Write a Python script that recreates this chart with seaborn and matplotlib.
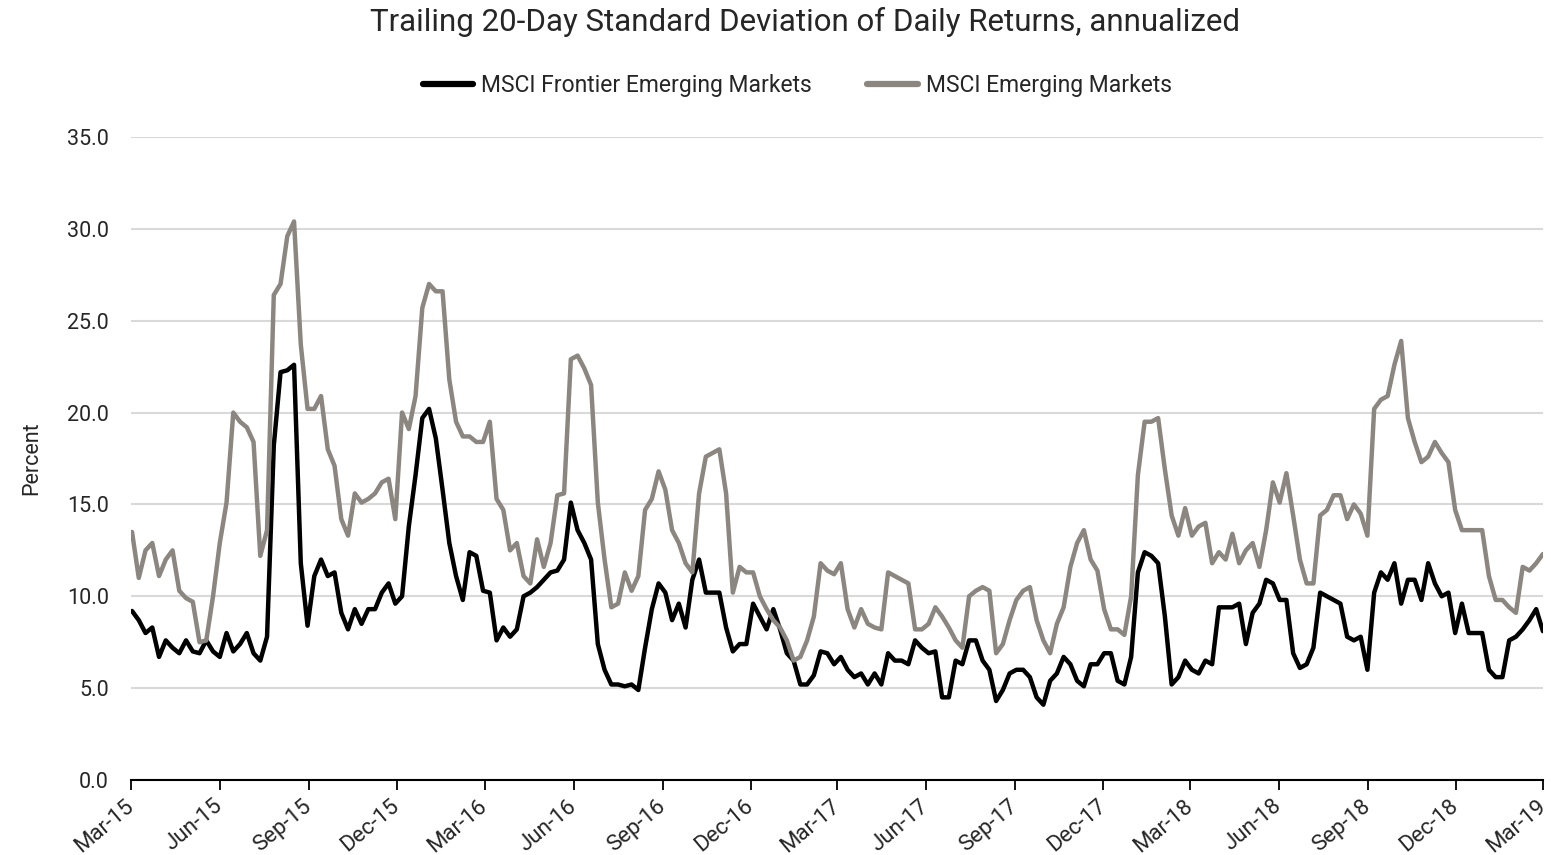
import numpy as np
import pandas as pd
import matplotlib
matplotlib.use("Agg")
import matplotlib.pyplot as plt
import matplotlib.dates as mdates
import matplotlib.ticker as mticker
from matplotlib.lines import Line2D
import seaborn as sns

# ---- data (weekly readings, Mar-2015 .. Mar-2019) ----
start_date = "2015-03-02"
end_date = "2019-03-01"

frontier = [
    9.2, 8.7, 8.0, 8.3, 6.7, 7.6, 7.2, 6.9, 7.6, 7.0,
    6.9, 7.6, 7.0, 6.7, 8.0, 7.0, 7.4, 8.0, 6.9, 6.5,
    7.8, 18.2, 22.2, 22.3, 22.6, 11.8, 8.4, 11.1, 12.0, 11.1,
    11.3, 9.1, 8.2, 9.3, 8.5, 9.3, 9.3, 10.2, 10.7, 9.6,
    10.0, 13.8, 16.6, 19.7, 20.2, 18.6, 15.8, 12.9, 11.1, 9.8,
    12.4, 12.2, 10.3, 10.2, 7.6, 8.3, 7.8, 8.2, 10.0, 10.2,
    10.5, 10.9, 11.3, 11.4, 12.0, 15.1, 13.6, 12.9, 12.0, 7.4,
    6.0, 5.2, 5.2, 5.1, 5.2, 4.9, 7.2, 9.3, 10.7, 10.2,
    8.7, 9.6, 8.3, 10.9, 12.0, 10.2, 10.2, 10.2, 8.3, 7.0,
    7.4, 7.4, 9.6, 8.9, 8.2, 9.3, 8.2, 6.9, 6.5, 5.2,
    5.2, 5.7, 7.0, 6.9, 6.3, 6.7, 6.0, 5.6, 5.8, 5.2,
    5.8, 5.2, 6.9, 6.5, 6.5, 6.3, 7.6, 7.2, 6.9, 7.0,
    4.5, 4.5, 6.5, 6.3, 7.6, 7.6, 6.5, 6.0, 4.3, 4.9,
    5.8, 6.0, 6.0, 5.6, 4.5, 4.1, 5.4, 5.8, 6.7, 6.3,
    5.4, 5.1, 6.3, 6.3, 6.9, 6.9, 5.4, 5.2, 6.7, 11.3,
    12.4, 12.2, 11.8, 8.9, 5.2, 5.6, 6.5, 6.0, 5.8, 6.5,
    6.3, 9.4, 9.4, 9.4, 9.6, 7.4, 9.1, 9.6, 10.9, 10.7,
    9.8, 9.8, 6.9, 6.1, 6.3, 7.2, 10.2, 10.0, 9.8, 9.6,
    7.8, 7.6, 7.8, 6.0, 10.2, 11.3, 10.9, 11.8, 9.6, 10.9,
    10.9, 9.8, 11.8, 10.7, 10.0, 10.2, 8.0, 9.6, 8.0, 8.0,
    8.0, 6.0, 5.6, 5.6, 7.6, 7.8, 8.2, 8.7, 9.3, 8.1,
]

emerging = [
    13.5, 11.0, 12.5, 12.9, 11.1, 12.0, 12.5, 10.3, 9.9, 9.7,
    7.5, 7.6, 10.0, 12.9, 15.1, 20.0, 19.5, 19.2, 18.4, 12.2,
    13.6, 26.4, 27.0, 29.6, 30.4, 23.7, 20.2, 20.2, 20.9, 18.0,
    17.1, 14.2, 13.3, 15.6, 15.1, 15.3, 15.6, 16.2, 16.4, 14.2,
    20.0, 19.1, 20.9, 25.7, 27.0, 26.6, 26.6, 21.8, 19.5, 18.7,
    18.7, 18.4, 18.4, 19.5, 15.3, 14.7, 12.5, 12.9, 11.1, 10.7,
    13.1, 11.6, 12.9, 15.5, 15.6, 22.9, 23.1, 22.4, 21.5, 15.1,
    12.0, 9.4, 9.6, 11.3, 10.3, 11.1, 14.7, 15.3, 16.8, 15.8,
    13.6, 12.9, 11.8, 11.3, 15.6, 17.6, 17.8, 18.0, 15.6, 10.2,
    11.6, 11.3, 11.3, 10.0, 9.3, 8.7, 8.3, 7.6, 6.5, 6.7,
    7.6, 8.9, 11.8, 11.4, 11.2, 11.8, 9.3, 8.3, 9.3, 8.5,
    8.3, 8.2, 11.3, 11.1, 10.9, 10.7, 8.2, 8.2, 8.5, 9.4,
    8.9, 8.3, 7.6, 7.2, 10.0, 10.3, 10.5, 10.3, 6.9, 7.4,
    8.7, 9.8, 10.3, 10.5, 8.7, 7.6, 6.9, 8.5, 9.4, 11.6,
    12.9, 13.6, 12.0, 11.4, 9.3, 8.2, 8.2, 7.9, 10.0, 16.6,
    19.5, 19.5, 19.7, 16.9, 14.4, 13.3, 14.8, 13.3, 13.8, 14.0,
    11.8, 12.4, 12.0, 13.4, 11.8, 12.5, 12.9, 11.6, 13.6, 16.2,
    15.1, 16.7, 14.4, 12.0, 10.7, 10.7, 14.4, 14.7, 15.5, 15.5,
    14.2, 15.0, 14.5, 13.3, 20.2, 20.7, 20.9, 22.6, 23.9, 19.7,
    18.4, 17.3, 17.6, 18.4, 17.8, 17.3, 14.7, 13.6, 13.6, 13.6,
    13.6, 11.1, 9.8, 9.8, 9.4, 9.1, 11.6, 11.4, 11.8, 12.3,
]

series_names = ["MSCI Frontier Emerging Markets", "MSCI Emerging Markets"]
series_colors = ["#000000", "#8B8680"]

n = len(frontier)
dates = pd.date_range(start_date, end_date, periods=n)
df = pd.DataFrame({
    "date": np.concatenate([dates, dates]),
    "value": frontier + emerging,
    "series": [series_names[0]] * n + [series_names[1]] * n,
})

sns.set_theme(style="white")
plt.rcParams["font.family"] = ["Roboto", "DejaVu Sans"]

fig = plt.figure(figsize=(15.51, 8.55), dpi=100)
ax = fig.add_axes([0.0845, 0.0877, 0.9103, 0.7521])

sns.lineplot(data=df, x="date", y="value", hue="series",
             palette=dict(zip(series_names, series_colors)),
             hue_order=series_names, linewidth=3.2, ax=ax, legend=False)

ax.set_ylim(0, 35)
ax.set_yticks(np.arange(0, 35.1, 5))
ax.yaxis.set_major_formatter(mticker.FormatStrFormatter("%.1f"))
ax.set_xlim(pd.Timestamp("2015-03-01"), pd.Timestamp("2019-03-01"))
ax.xaxis.set_major_locator(mdates.MonthLocator(bymonth=[3, 6, 9, 12], bymonthday=1))
ax.xaxis.set_major_formatter(mdates.DateFormatter("%b-%y"))

ax.grid(axis="y", color="#D9D9D9", linewidth=1.5)
ax.grid(axis="x", visible=False)
for s in ["top", "right", "left"]:
    ax.spines[s].set_visible(False)
ax.spines["bottom"].set_color("#000000")
ax.spines["bottom"].set_linewidth(1.5)
ax.tick_params(axis="x", which="major", direction="out", length=7, width=1.3,
               color="#000000", bottom=True, labelsize=16, pad=10)
ax.tick_params(axis="y", length=0, labelsize=15.5, pad=16)
for lbl in ax.get_xticklabels():
    lbl.set_rotation(40)
    lbl.set_ha("right")
    lbl.set_va("center")
    lbl.set_rotation_mode("anchor")

ax.set_xlabel("")
ax.set_ylabel("Percent", fontsize=15.5, labelpad=18)

fig.text(0.519, 0.974,
         "Trailing 20-Day Standard Deviation of Daily Returns, annualized",
         fontsize=22.5, ha="center", va="center")

handles = [Line2D([0], [0], color=c, linewidth=4.5, solid_capstyle="round")
           for c in series_colors]
fig.legend(handles, series_names, loc="center", bbox_to_anchor=(0.514, 0.9),
           ncol=2, frameon=False, fontsize=16.5, handlelength=2.2,
           handletextpad=0.36, columnspacing=2.4)

fig.savefig("out.png", dpi=100)
